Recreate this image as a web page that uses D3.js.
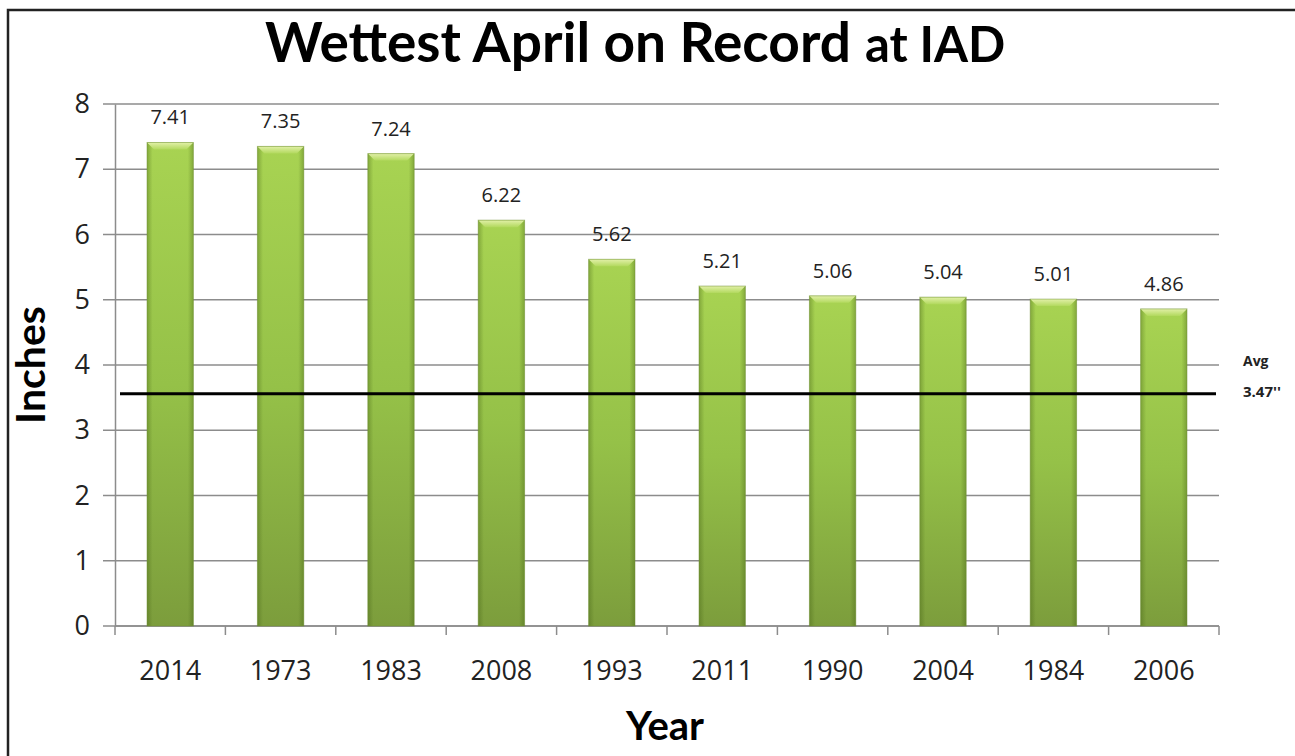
<!DOCTYPE html>
<html><head><meta charset="utf-8">
<script src="https://cdn.jsdelivr.net/npm/d3@7"></script>
<style>body{margin:0;background:#fff}svg{display:block}text{font-family:"Open Sans",Lato,sans-serif}</style>
</head><body>
<svg id="c" width="1295" height="756"></svg>
<script>
const years = ["2014","1973","1983","2008","1993","2011","1990","2004","1984","2006"];
const inches = [7.41,7.35,7.24,6.22,5.62,5.21,5.06,5.04,5.01,4.86];
const valueLabels = ["7.41","7.35","7.24","6.22","5.62","5.21","5.06","5.04","5.01","4.86"];
const yTicks = [0,1,2,3,4,5,6,7,8];
const avgLinePos = 3.56;
const avgLabel = ["Avg","3.47''"];
const title = "Wettest April on Record";
const titleSuffix = "at IAD";
const xTitle = "Year", yTitle = "Inches";

const svg = d3.select("#c");
const L = 115, R = 1219, T = 104, B = 626;
const x = d3.scaleBand().domain(years).range([L, R]).paddingInner(0.58).paddingOuter(0.29);
const y = d3.scaleLinear().domain([0, 8]).range([B, T]);

// border
svg.append("path").attr("d","M8,756 V10 H1295").attr("fill","none").attr("stroke","#222").attr("stroke-width",2.5);

const defs = svg.append("defs");
const gv = defs.append("linearGradient").attr("id","gv").attr("x1",0).attr("y1",0).attr("x2",0).attr("y2",1);
gv.append("stop").attr("offset",0).attr("stop-color","#a8d352");
gv.append("stop").attr("offset",0.5).attr("stop-color","#95c148");
gv.append("stop").attr("offset",1).attr("stop-color","#7c9d3c");
const gh = defs.append("linearGradient").attr("id","gh").attr("x1",0).attr("y1",0).attr("x2",1).attr("y2",0);
gh.append("stop").attr("offset",0).attr("stop-color","#3d5a10").attr("stop-opacity",0.35);
gh.append("stop").attr("offset",0.12).attr("stop-color","#3d5a10").attr("stop-opacity",0);
gh.append("stop").attr("offset",0.88).attr("stop-color","#3d5a10").attr("stop-opacity",0);
gh.append("stop").attr("offset",1).attr("stop-color","#3d5a10").attr("stop-opacity",0.35);
const gc = defs.append("linearGradient").attr("id","gc").attr("x1",0).attr("y1",0).attr("x2",0).attr("y2",1);
gc.append("stop").attr("offset",0).attr("stop-color","#e2f0a8");
gc.append("stop").attr("offset",1).attr("stop-color","#b2d95e");

// gridlines
svg.append("g").selectAll("line").data(yTicks).join("line")
  .attr("x1", L-12).attr("x2", R).attr("y1", d=>y(d)).attr("y2", d=>y(d))
  .attr("stroke","#8c8c8c").attr("stroke-width",1.5);

// y axis
const ya = svg.append("g").attr("transform",`translate(${L},0)`)
  .call(d3.axisLeft(y).tickValues(yTicks).tickSize(0).tickPadding(25).tickFormat(d3.format("d")));
ya.select(".domain").attr("stroke","#8c8c8c").attr("stroke-width",1.5);
ya.selectAll("text").attr("font-size",27).attr("fill","#222").style("font-family","'Open Sans',sans-serif");

// x axis
const xa = svg.append("g").attr("transform",`translate(0,${B})`)
  .call(d3.axisBottom(x).tickSize(0).tickPadding(35));
xa.select(".domain").remove();
xa.selectAll("text").attr("font-size",27).attr("fill","#222").style("font-family","'Open Sans',sans-serif");
const bounds = d3.range(years.length+1).map(i => L + i*(R-L)/years.length);
svg.append("g").selectAll("line").data(bounds).join("line")
  .attr("x1",d=>d).attr("x2",d=>d).attr("y1",B).attr("y2",B+9)
  .attr("stroke","#8c8c8c").attr("stroke-width",1.5);
svg.append("line").attr("x1",L).attr("x2",R).attr("y1",B).attr("y2",B).attr("stroke","#8c8c8c").attr("stroke-width",1.5);

// bars
const bars = svg.append("g");
const bw = x.bandwidth();
years.forEach((yr,i)=>{
  const x0 = x(yr), y0 = y(inches[i]);
  const g = bars.append("g");
  g.append("rect").attr("x",x0).attr("y",y0).attr("width",bw).attr("height",B-y0).attr("fill","url(#gv)");
  g.append("rect").attr("x",x0).attr("y",y0).attr("width",bw).attr("height",B-y0).attr("fill","url(#gh)");
  const c = 7;
  g.append("path").attr("d",`M${x0},${y0} H${x0+bw} L${x0+bw-c},${y0+c} H${x0+c} Z`).attr("fill","url(#gc)");
  g.append("rect").attr("x",x0).attr("y",y0).attr("width",bw).attr("height",B-y0).attr("fill","none").attr("stroke","#6f8f33").attr("stroke-opacity",0.5).attr("stroke-width",1);
});

// value labels
svg.append("g").selectAll("text").data(years).join("text")
  .attr("x", d=>x(d)+bw/2).attr("y",(d,i)=>y(inches[i])-18)
  .attr("text-anchor","middle").attr("font-size",20).attr("fill","#222")
  .text((d,i)=>valueLabels[i]);

// avg line
svg.append("line").attr("x1",120).attr("x2",1216).attr("y1",y(avgLinePos)).attr("y2",y(avgLinePos))
  .attr("stroke","#000").attr("stroke-width",3);
svg.append("text").attr("x",1243).attr("y",366).attr("font-size",14).attr("font-weight","bold").attr("fill","#222").text(avgLabel[0]);
svg.append("text").attr("x",1243).attr("y",397).attr("font-size",15).attr("font-weight","bold").attr("fill","#222").text(avgLabel[1]);

// titles
const t = svg.append("text").attr("x",265).attr("y",62).attr("font-weight","bold").attr("fill","#000").style("font-family","Lato,sans-serif");
t.append("tspan").attr("font-size",55).text(title);
t.append("tspan").attr("font-size",49).attr("dx",14).text(titleSuffix);
svg.append("text").attr("x",665).attr("y",740).attr("text-anchor","middle").attr("font-size",40).attr("font-weight","bold").style("font-family","Lato,sans-serif").text(xTitle);
svg.append("text").attr("transform","translate(45,365) rotate(-90)").attr("text-anchor","middle").attr("font-size",41).attr("font-weight","bold").style("font-family","Lato,sans-serif").text(yTitle);
</script>
</body></html>
